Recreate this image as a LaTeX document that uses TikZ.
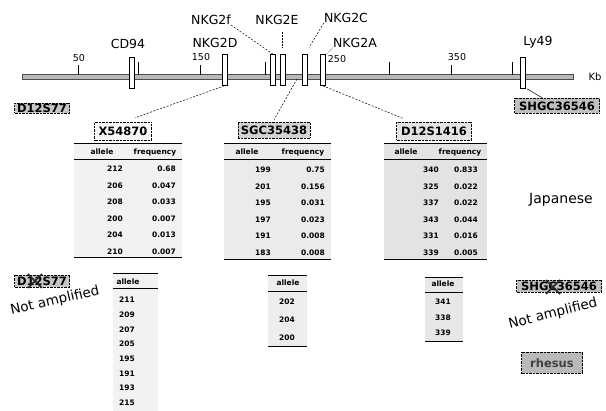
\documentclass[tikz,border=0pt]{standalone}
\usepackage{fontspec}
\setmainfont{DejaVu Sans}
\begin{document}
\begin{tikzpicture}[x=1pt,y=-1pt,
  gene/.style={draw=black,fill=white,line width=0.6pt,minimum width=5pt,minimum height=31pt,inner sep=0pt},
  glabel/.style={inner sep=0pt,font=\fontsize{12.5}{13}\selectfont},
  scalelab/.style={inner sep=0pt,font=\fontsize{9.5}{10}\selectfont},
  tickline/.style={line width=0.8pt},
  locus/.style={draw=black,densely dotted,line width=0.4pt,inner sep=1pt,font=\fontsize{11.5}{12}\selectfont\bfseries},
  lead/.style={dash pattern=on 2pt off 1.5pt,line width=0.5pt},
  cell/.style={inner sep=0pt,font=\fontsize{7.5}{8}\selectfont\bfseries},
  hrule/.style={line width=1pt},
  cross/.style={line width=1.6pt,black!85},
  notamp/.style={inner sep=0pt,font=\fontsize{13.5}{14}\selectfont},
]
\useasboundingbox (0,0) rectangle (606,411);
\fill[white] (0,0) rectangle (606,411);

% chromosome bar
\fill[gray!55] (22,74.5) rectangle (573,79.5);
\draw[black!70,line width=0.4pt] (22,74.5) rectangle (573,79.5);

% ticks
\foreach \tx/\ty in {78/65,138/62,200/65,265/62,389/62,451/65,512/62}
  \draw[tickline] (\tx,\ty) -- (\tx,75);
\node[scalelab] (s50) at (79,58) {50};
\node[scalelab] (s150) at (201,57) {150};
\node[scalelab] (s250) at (337,59) {250};
\node[scalelab] (s350) at (457,57) {350};
\node[inner sep=0pt,font=\fontsize{10}{10}\selectfont] (kb) at (595,77) {Kb};

% gene boxes
\node[gene] (cd94) at (131.5,73) {};
\node[gene] (nkg2d) at (224.5,70) {};
\node[gene] (nkg2f) at (273,70) {};
\node[gene] (nkg2e) at (282.5,70) {};
\node[gene] (nkg2c) at (305,70) {};
\node[gene] (nkg2a) at (323,70) {};
\node[gene] (ly49) at (523,73) {};

% gene labels
\node[glabel] (lcd) at (128,44) {CD94};
\node[glabel] (ld) at (215,43) {NKG2D};
\node[glabel] (lf) at (211,20) {NKG2f};
\node[glabel] (le) at (277,20) {NKG2E};
\node[glabel] (lc) at (346,18) {NKG2C};
\node[glabel] (la) at (355,43) {NKG2A};
\node[glabel] (lly) at (538,42) {Ly49};

\draw[lead] (lf.south east) -- (nkg2f.north);
\draw[densely dotted,line width=0.5pt] (nkg2e.north) ++(0,-7) -- ++(0,-16);
\draw[lead,shorten >=8pt] (lc.south west) -- (nkg2c.north);
\draw[densely dotted,line width=0.5pt] (la.south west) -- (nkg2a.north east);

% locus boxes
\node[locus,fill=gray!45,minimum width=55pt,minimum height=10pt,inner sep=0pt] (d12s77) at (42,108) {D12S77};
\node[locus,fill=gray!6,minimum width=57pt,minimum height=18pt] (x54870) at (123,131) {X54870};
\node[locus,fill=gray!35,minimum width=72pt,minimum height=16pt] (sgc) at (274,130) {SGC35438};
\node[locus,fill=gray!22,minimum width=75pt,minimum height=18pt] (d12s1416) at (434,131) {D12S1416};
\node[locus,fill=gray!50,minimum width=85pt,minimum height=15pt] (shgc) at (557,106) {SHGC36546};

\coordinate (barpt) at (297,79);
\draw[lead] (nkg2d.south) -- ([xshift=12pt,yshift=4pt]x54870.north);
\draw[lead] (barpt) -- ([yshift=2pt]sgc.north);
\draw[lead] (nkg2a.south) -- ([xshift=-30pt,yshift=3pt]d12s1416.north);
\draw[line width=0.5pt] (ly49.south) ++(4,0) -- ([xshift=-14pt]shgc.north);

% ---- table 1 (X54870)
\fill[gray!10] (74,143) rectangle (182,258);
\draw[line width=0.8pt] (74,143) -- (182,143);
\draw[hrule] (74,160) -- (182,160);
\draw[hrule] (74,258) -- (182,258);
\node[cell] (t1ha) at (102,152) {allele};
\node[cell] (t1hf) at (155,152) {frequency};
\foreach \a/\f [count=\i] in {212/0.68,206/0.047,208/0.033,200/0.007,204/0.013,210/0.007}{
  \node[cell] (t1a\i) at (115,{169+(\i-1)*16.5}) {\a};
  \node[cell,anchor=east] (t1f\i) at (176,{169+(\i-1)*16.5}) {\f};
}

% ---- table 2 (SGC35438)
\fill[gray!16] (224,143) rectangle (331,260);
\draw[line width=0.8pt] (224,143) -- (331,143);
\draw[hrule] (224,160) -- (331,160);
\draw[hrule] (224,260) -- (331,260);
\node[cell] (t2ha) at (247,152) {allele};
\node[cell] (t2hf) at (303,152) {frequency};
\foreach \a/\f [count=\i] in {199/0.75,201/0.156,195/0.031,197/0.023,191/0.008,183/0.008}{
  \node[cell] (t2a\i) at (263,{170+(\i-1)*16.5}) {\a};
  \node[cell,anchor=east] (t2f\i) at (325,{170+(\i-1)*16.5}) {\f};
}

% ---- table 3 (D12S1416)
\fill[gray!22] (384,143) rectangle (487,260);
\draw[line width=0.8pt] (384,143) -- (487,143);
\draw[hrule] (384,160) -- (487,160);
\draw[hrule] (384,260) -- (487,260);
\node[cell] (t3ha) at (406,152) {allele};
\node[cell] (t3hf) at (460,152) {frequency};
\foreach \a/\f [count=\i] in {340/0.833,325/0.022,337/0.022,343/0.044,331/0.016,339/0.005}{
  \node[cell] (t3a\i) at (431,{170+(\i-1)*16.5}) {\a};
  \node[cell,anchor=east] (t3f\i) at (478,{170+(\i-1)*16.5}) {\f};
}

% ---- rhesus table 4
\fill[gray!10] (113,273) rectangle (158,411);
\draw[line width=0.8pt] (113,273) -- (158,273);
\draw[hrule] (113,289) -- (158,289);
\node[cell] (t4h) at (128,282) {allele};
\foreach \a [count=\i] in {211,209,207,205,195,191,193,215}{
  \node[cell] (t4a\i) at (127,{300+(\i-1)*14.7}) {\a};
}

% ---- rhesus table 5
\fill[gray!14] (268,275) rectangle (307,347);
\draw[line width=0.8pt] (268,275) -- (307,275);
\draw[hrule] (268,292) -- (307,292);
\draw[hrule] (268,347) -- (307,347);
\node[cell] (t5h) at (288,283) {allele};
\foreach \a [count=\i] in {202,204,200}{
  \node[cell] (t5a\i) at (287,{302+(\i-1)*18}) {\a};
}

% ---- rhesus table 6
\fill[gray!18] (425,277) rectangle (463,342);
\draw[line width=0.8pt] (425,277) -- (463,277);
\draw[line width=0.6pt] (425,292) -- (463,292);
\draw[hrule] (425,342) -- (463,342);
\node[cell] (t6h) at (443,284) {allele};
\foreach \a [count=\i] in {341,338,339}{
  \node[cell] (t6a\i) at (443,{302+(\i-1)*15.5}) {\a};
}

% ---- not amplified markers
\node[locus,fill=gray!45,minimum width=55pt,minimum height=12pt,inner sep=0pt] (d12s77b) at (42,281) {D12S77};
\draw[cross] (28,274) -- (42,288);
\draw[cross] (42,274) -- (28,288);
\node[notamp,rotate=13] (na1) at (55,301) {Not amplified};

\node[locus,fill=gray!50,minimum width=85pt,minimum height=12pt,inner sep=0pt] (shgcb) at (559,286) {SHGC36546};
\draw[cross] (546,280) -- (560,294);
\draw[cross] (560,280) -- (546,294);
\node[notamp,rotate=14] (na2) at (553,314) {Not amplified};

\node[inner sep=0pt,font=\fontsize{14}{14}\selectfont] (jap) at (561,200) {Japanese};
\node[locus,fill=gray!55,text=black!75,minimum width=61pt,minimum height=21pt] (rhesus) at (552,363) {rhesus};
\end{tikzpicture}
\end{document}
